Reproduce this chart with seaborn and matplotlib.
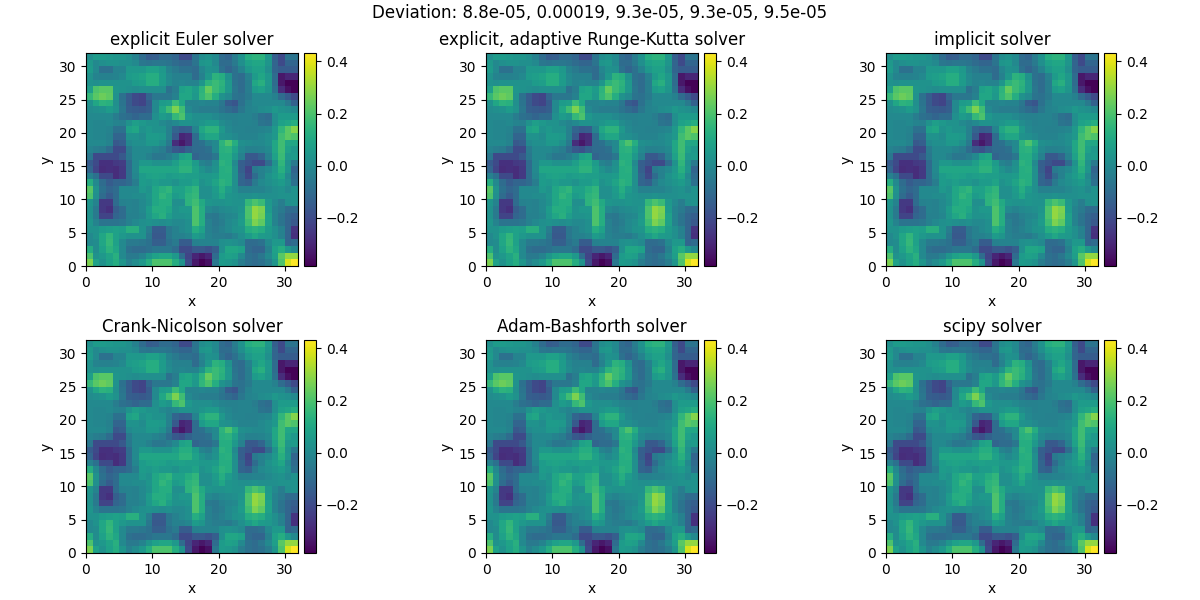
import matplotlib
matplotlib.use("Agg")
import matplotlib.pyplot as plt
import numpy as np
import seaborn as sns
from matplotlib.ticker import FixedLocator

# Solution field on the 32x32 grid, listed from the top row (y=31) down to y=0.
field_rows = [
 [.02,.06,.06,.05,.04,.04,.02,-.03,-.1,-.15,-.14,-.1,-.1,-.12,-.2,-.2, -.07,.01,.03,.0,-.1,-.12,-.04,.03,.12,.14,.14,.05,-.14,-.2,-.07,-.07],
 [.05,0,.02,.03,.03,.02,.02,.0,-.06,-.07,-.06,-.06,-.07,-.1,-.12,-.12, -.07,.04,.05,.0,-.1,-.1,-.05,.02,.08,.1,.1,.04,-.12,-.2,-.12,-.12],
 [.06,.0,-.08,-.08,-.02,-.02,.05,.05,.05,.08,.08,.05,-.02,-.05,-.08,-.08, -.1,-.01,.03,.02,-.08,-.12,-.08,-.02,.05,.08,.08,.02,-.12,-.15,-.15,-.15],
 [.03,-.02,-.03,-.03,-.02,.0,.06,.07,.09,.12,.12,.06,.0,-.03,-.03,-.03, -.1,-.03,.05,.14,.12,.03,-.08,-.1,-.03,.06,.1,.05,-.1,-.33,-.3,-.3],
 [.03,.02,.03,.03,.03,.03,.03,.06,.07,.12,.12,.06,.01,-.02,-.01,-.02, -.02,.04,.14,.17,.14,.05,-.07,-.1,-.04,.1,.13,.05,-.1,-.33,-.38,-.38],
 [.07,.2,.22,.22,.04,.03,.02,.01,.02,.02,.02,.02,-.08,-.04,.08,.1, .06,.14,.24,.17,.13,.05,-.06,-.1,-.04,.06,.08,.04,-.08,-.28,-.35,-.38],
 [.16,.22,.25,.23,.03,-.08,-.15,-.2,-.22,-.12,-.06,-.06,-.06,-.03,.1,.1, .05,.15,.2,.12,.03,.0,-.07,-.08,-.05,.0,.0,0,-.03,-.1,-.15,-.2],
 [.03,.1,.14,.13,.02,-.07,-.15,-.2,-.22,-.15,.0,.06,.07,.17,.1,-.02, -.02,-.01,-.02,-.02,-.06,-.15,-.17,-.08,-.03,0,0,0,0,0,-.05,-.13],
 [.01,.02,.03,.06,.03,-.06,-.14,-.15,-.16,-.14,.0,.1,.18,.27,.18,.0, -.03,-.04,-.04,-.04,-.07,-.1,-.12,-.06,-.02,-.01,.01,.02,.05,.03,.02,.0],
 [.0,.0,.0,.0,-.04,-.08,-.1,-.12,-.1,-.1,.02,.06,.04,.16,.2,.05, .02,.02,.02,.0,-.02,-.03,-.03,-.02,-.02,-.04,-.08,-.1,.02,.06,.06,.06],
 [.0,-.01,-.01,0,-.02,-.03,.03,.07,.05,.03,.03,.0,-.02,.0,.03,.03, .02,.04,.06,.06,.01,-.01,-.03,-.02,-.02,-.03,-.07,-.08,.02,.08,.1,.12],
 [.0,-.01,-.01,-.02,-.08,-.08,.08,.1,.03,.05,.03,.03,-.03,-.12,-.15,-.14, -.02,.1,.14,.14,.05,0,-.02,-.02,-.03,-.03,-.02,-.01,.05,.15,.22,.28],
 [.0,-.01,-.01,-.03,-.12,-.12,.03,.03,.01,.06,.06,.05,-.03,-.16,-.3,-.28, -.1,.06,.1,.1,.03,.02,0,-.02,-.02,-.02,.0,.02,.05,.18,.22,.2],
 [.0,.0,0,-.02,-.16,-.14,.0,.02,.02,.05,.05,.02,-.05,-.28,-.33,-.28, -.1,-.08,-.03,.0,.14,.2,.12,.02,.01,.0,.0,.02,.1,.18,.1,.1],
 [-.02,-.04,-.05,-.1,-.2,-.2,-.05,.0,.0,.0,-.02,-.04,-.1,-.16,-.18,-.13, -.1,-.1,-.08,.0,.13,.14,.08,.0,-.03,-.03,-.02,.0,.1,.18,.08,.05],
 [-.06,-.2,-.2,-.2,-.2,-.16,-.06,.0,.0,-.03,-.06,-.06,-.04,.0,.08,.1, -.12,-.1,-.1,-.06,.12,.12,.05,-.03,-.16,-.16,-.12,-.03,.08,.17,.05,.06],
 [-.15,-.2,-.27,-.27,-.25,-.24,-.1,0,.05,.05,.03,.03,.03,.07,.12,.12, .06,-.02,-.04,.02,.14,.12,.0,-.14,-.17,-.2,-.2,-.1,.03,.15,.03,-.05],
 [-.12,-.22,-.28,-.27,-.28,-.25,-.1,0,.1,.1,.1,.1,.1,.1,.14,.14, .08,.03,.0,.03,.12,.13,.02,-.14,-.22,-.05,-.03,.0,.05,.13,.04,-.12],
 [-.03,-.08,-.2,-.2,-.28,-.25,-.1,-.01,.06,.08,.09,.08,.06,.07,.08,.07, .07,.05,.05,.06,.12,.12,.02,-.12,-.2,-.1,-.03,.03,.06,.1,.0,-.1],
 [.12,.0,-.1,-.15,-.12,-.12,-.1,-.04,.06,.05,.07,.05,.05,.03,.06,.06, .09,.03,.05,.09,.14,.12,.02,-.12,-.14,-.05,.0,.02,.04,.06,.02,-.08],
 [.22,.03,-.08,-.12,-.1,0,0,.0,.05,.03,.1,.13,.15,.08,.08,.12, .15,.02,.02,.06,.12,.06,.02,-.03,-.03,-.02,-.02,.0,.02,.03,.0,.03],
 [.2,.02,-.1,-.15,-.1,.0,.0,.01,.01,.04,.1,.15,.12,.06,.08,.14, .16,.02,.02,.05,.1,.04,.03,.02,.02,.03,.02,.02,.02,.03,.03,.03],
 [.04,-.02,-.25,-.25,-.1,-.03,-.02,-.03,.0,.03,.1,.12,.12,.02,.02,.14, .18,.11,.04,.03,.03,.04,.03,.03,.16,.2,.17,.05,.0,-.04,.02,.03],
 [.03,-.05,-.25,-.27,-.14,-.1,-.02,-.03,.0,.06,.12,.12,.1,.03,.05,.05, .2,.12,.0,-.02,.0,.01,.02,.04,.2,.3,.27,.06,-.02,-.05,-.1,-.1],
 [.03,-.05,-.22,-.22,-.12,-.1,-.03,-.03,-.01,.05,.1,.13,.07,.03,.03,.04, .2,.12,-.05,-.06,-.03,-.01,.0,.05,.2,.3,.26,.08,-.02,-.07,-.12,-.14],
 [.04,-.02,-.07,-.07,-.07,-.06,-.03,.0,.02,.03,.02,.01,.02,.0,.0,.02, .2,.12,-.03,-.06,-.04,.0,.02,.06,.18,.27,.23,.08,-.02,-.07,-.12,-.16],
 [.03,.03,.06,.07,.08,.07,.13,.13,.03,-.04,-.15,-.15,-.06,-.03,.0,.02, .12,.08,-.03,-.05,-.03,.0,.03,.04,.12,.14,.12,.06,.02,-.03,-.12,-.26],
 [.0,.03,.1,.15,.08,.05,.03,.03,.03,-.06,-.16,-.16,-.06,-.03,-.03,-.01, .06,.04,-.02,-.04,-.04,-.05,-.02,.02,.06,.1,.06,.05,.02,-.03,-.12,-.27],
 [.0,.01,.1,.16,.08,.0,-.05,-.05,-.06,-.08,-.14,-.14,-.08,-.05,-.15,-.15, -.03,-.02,-.02,-.02,.02,.03,.02,.0,-.1,-.1,-.08,.0,.05,.05,-.12,-.1],
 [.12,.01,.08,.14,.1,.0,-.08,-.1,-.1,-.08,-.06,-.06,-.06,-.1,-.2,-.2, -.16,-.16,-.18,-.14,.02,.1,.1,.08,-.1,-.12,-.12,-.03,.08,.12,.05,.0],
 [.2,.03,.05,.09,.13,.0,-.05,-.05,-.02,.04,.08,.1,.1,.05,-.1,-.22, -.3,-.33,-.3,-.1,.06,.08,.07,.0,-.08,-.1,-.06,.0,.07,.22,.3,.3],
 [.27,.08,.03,.08,.12,.04,-.03,.01,.05,.12,.2,.2,.2,.12,.03,-.2, -.33,-.38,-.35,-.06,.06,.05,.03,-.04,-.08,-.1,-.08,-.04,.04,.2,.38,.43],
]

solver_titles = ["explicit Euler solver", "explicit, adaptive Runge-Kutta solver", "implicit solver",
                 "Crank-Nicolson solver", "Adam-Bashforth solver", "scipy solver"]
deviations = ["8.8e-05", "0.00019", "9.3e-05", "9.3e-05", "9.5e-05"]
x_ticks = [0, 10, 20, 30]
y_ticks = [0, 5, 10, 15, 20, 25, 30]
cbar_ticks = [-0.2, 0.0, 0.2, 0.4]
color_min, color_max = -0.384, 0.432

# Row 0 of the array sits at y=0 once the heatmap's y axis is flipped upward.
field = np.array(field_rows)[::-1]

fig = plt.figure(figsize=(12, 6), dpi=100)
W, H = 1200.0, 600.0
col_lefts = [86, 486, 886]
row_tops = [53, 340]

for i, title in enumerate(solver_titles):
    x0 = col_lefts[i % 3]
    y0 = row_tops[i // 3]
    ax = fig.add_axes([x0 / W, 1 - (y0 + 213) / H, 212 / W, 213 / H])
    cax = fig.add_axes([(x0 + 218) / W, 1 - (y0 + 213) / H, 12 / W, 213 / H])
    sns.heatmap(field, ax=ax, cbar_ax=cax, cmap="viridis", vmin=color_min, vmax=color_max,
                xticklabels=False, yticklabels=False, cbar_kws={"ticks": cbar_ticks})
    ax.invert_yaxis()
    ax.xaxis.set_major_locator(FixedLocator(x_ticks))
    ax.yaxis.set_major_locator(FixedLocator(y_ticks))
    ax.set_xticklabels([str(t) for t in x_ticks], rotation=0)
    ax.set_yticklabels([str(t) for t in y_ticks], rotation=0)
    ax.set_xlabel("x")
    ax.set_ylabel("y")
    ax.set_title(title, fontsize=12)
    for spine in ax.spines.values():
        spine.set_visible(True)
        spine.set_linewidth(0.8)
    cbar = ax.collections[0].colorbar
    cbar.outline.set_visible(True)
    cbar.outline.set_linewidth(0.8)
    cbar.outline.set_edgecolor("black")
    cax.tick_params(labelsize=10, length=3.5, width=0.8)

fig.suptitle("Deviation: " + ", ".join(deviations), fontsize=12, x=0.5, y=0.993)
fig.savefig("out.png", dpi=100)
